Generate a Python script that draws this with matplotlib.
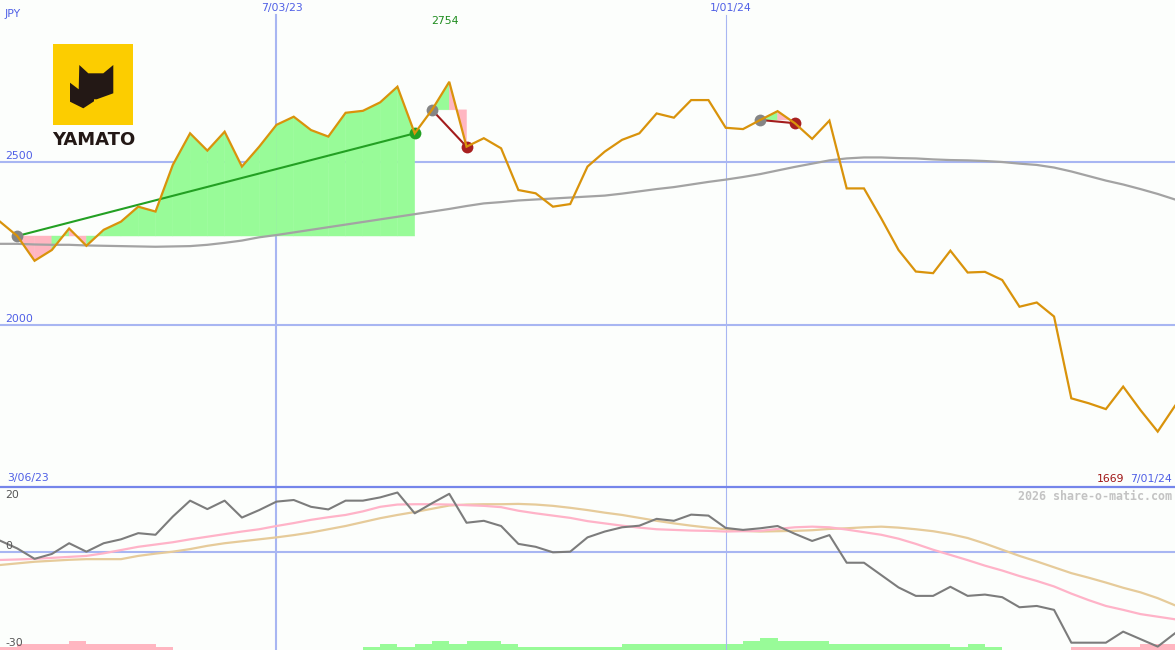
import numpy as np
import matplotlib
matplotlib.use("Agg")
import matplotlib.pyplot as plt
from matplotlib.patches import Polygon, Rectangle
from matplotlib.lines import Line2D

# ---------------- data (weekly, 69 weeks) ----------------
price = [2316, 2272, 2196, 2229, 2295, 2242, 2291, 2316, 2362, 2347,
         2490, 2587, 2534, 2592, 2485, 2546, 2613, 2638, 2597, 2577,
         2650, 2656, 2682, 2730, 2587, 2659, 2745, 2546, 2572, 2541,
         2413, 2403, 2362, 2370, 2485, 2531, 2567, 2587, 2648, 2635,
         2689, 2689, 2604, 2600, 2628, 2655, 2618, 2570, 2626, 2418,
         2418, 2326, 2229, 2163, 2158, 2227, 2160, 2162, 2137, 2055,
         2068, 2025, 1774, 1759, 1741, 1810, 1738, 1672, 1751]

ma_long = [2248, 2248, 2246, 2245, 2245, 2243, 2242, 2241, 2240, 2239,
           2240, 2241, 2245, 2251, 2258, 2268, 2275, 2283, 2291, 2299,
           2307, 2315, 2323, 2331, 2339, 2347, 2355, 2364, 2372, 2376,
           2381, 2384, 2387, 2390, 2393, 2396, 2402, 2409, 2416, 2422,
           2430, 2438, 2445, 2453, 2462, 2473, 2484, 2494, 2504, 2510,
           2513, 2513, 2511, 2510, 2507, 2505, 2504, 2502, 2499, 2494,
           2490, 2482, 2470, 2456, 2442, 2430, 2416, 2401, 2384]

osc = [3.4, 1.0, -2.2, -0.7, 2.6, 0.0, 2.6, 3.8, 5.7, 5.2,
       10.8, 15.7, 13.1, 15.7, 10.5, 12.8, 15.4, 15.9, 13.8, 13.0,
       15.7, 15.7, 16.7, 18.2, 11.8, 14.9, 17.8, 8.9, 9.5, 7.9,
       2.4, 1.5, -0.2, 0.0, 4.4, 6.2, 7.5, 8.0, 10.1, 9.5,
       11.4, 11.1, 7.3, 6.7, 7.2, 7.9, 5.5, 3.3, 5.1, -3.4,
       -3.4, -7.2, -11.0, -13.6, -13.6, -10.8, -13.6, -13.2, -14.0, -17.1,
       -16.7, -17.9, -28.0, -28.0, -28.0, -24.6, -26.9, -29.2, -25.1]

osc_fast = [-2.55, -2.4, -2.2, -1.9, -1.6, -1.3, -0.5, 0.5, 1.5, 2.2,
            2.9, 3.8, 4.6, 5.4, 6.2, 6.9, 7.9, 8.8, 9.8, 10.6,
            11.3, 12.4, 13.8, 14.5, 14.6, 14.6, 14.5, 14.3, 14.1, 13.7,
            12.6, 11.8, 11.1, 10.4, 9.4, 8.7, 8.0, 7.4, 6.9, 6.7,
            6.5, 6.4, 6.2, 6.3, 6.4, 7.0, 7.5, 7.7, 7.5, 6.8,
            6.0, 5.2, 4.0, 2.4, 0.6, -1.0, -2.6, -4.3, -5.8, -7.5,
            -9.0, -10.7, -12.9, -14.9, -16.7, -17.9, -19.2, -20.0, -20.8]

osc_slow = [-4.1, -3.6, -3.1, -2.8, -2.5, -2.3, -2.3, -2.3, -1.3, -0.6,
            0.0, 0.8, 1.8, 2.6, 3.2, 3.8, 4.4, 5.1, 5.9, 6.9,
            7.9, 9.1, 10.3, 11.3, 12.2, 13.2, 14.2, 14.5, 14.6, 14.6,
            14.7, 14.5, 14.1, 13.5, 12.8, 12.0, 11.3, 10.4, 9.5, 8.7,
            8.0, 7.4, 6.9, 6.4, 6.2, 6.3, 6.4, 6.6, 7.0, 7.2,
            7.5, 7.7, 7.4, 6.9, 6.3, 5.4, 4.2, 2.5, 0.6, -1.3,
            -3.0, -4.8, -6.6, -8.0, -9.5, -11.1, -12.5, -14.3, -16.5]

# signed histogram per week (positive = green, negative = pink)
hist_vals = [-1, -2, -2, -2, -3, -2, -2, -2, -2, -1,
             0, 0, 0, 0, 0, 0, 0, 0, 0, 0,
             0, 1, 2, 1, 2, 3, 2, 3, 3, 2,
             1, 1, 1, 1, 1, 1, 2, 2, 2, 2,
             2, 2, 2, 3, 4, 3, 3, 3, 2, 2,
             2, 2, 2, 2, 2, 1, 2, 1, 0, 0,
             0, 0, -1, -1, -1, -1, -2, -2]

# trades: (entry week, exit week)
trades = [(1, 24), (25, 27), (44, 46)]

date_ticks = [16, 42]
date_labels = ["7/03/23", "1/01/24"]
start_label, end_label = "3/06/23", "7/01/24"
price_grid = [2500, 2000]
osc_ticks = [20, 0, -30]
max_label, min_label = "2754", "1669"

# ---------------- figure ----------------
W, H = 1175, 650
BG = '#FCFEFC'
GRID = '#A8B6F2'
BLUE_TXT = '#4F5FE6'
fig = plt.figure(figsize=(W / 100, H / 100), dpi=100)
fig.patch.set_facecolor(BG)

def fx(x):
    return x / W

def fy(y):
    return 1 - y / H

split = 487.0
ax = fig.add_axes([0, fy(split), 1, split / H])
axh = fig.add_axes([0, 0, 1, (H - split) / H])
axb = fig.add_axes([0, 0, 1, (H - split) / H])
for a in (ax, axh, axb):
    a.set_axis_off()
ax.set_facecolor(BG)
axh.set_facecolor(BG)
axb.patch.set_alpha(0)

n = len(price)
x = np.arange(n)

# ---- top panel ----
ax.set_xlim(0, n - 1)
ax.set_ylim(1502, 2996)
for g in price_grid:
    ax.axhline(g, color=GRID, lw=1.5, zorder=1)
top_frac = 1 - 15 / split
ax.axvline(date_ticks[0], color=GRID, lw=1.5, ymax=top_frac, zorder=1)
ax.axvline(date_ticks[1], color=GRID, lw=0.8, ymax=top_frac, zorder=1)

GREEN_F = '#98FB98'
PINK_F = '#FFB6C1'
for e, q in trades:
    L = price[e]
    for j in range(e, q):
        col = GREEN_F if price[j + 1] >= L else PINK_F
        poly = Polygon([(j, L), (j, price[j]), (j + 1, price[j + 1]), (j + 1, L)],
                       closed=True, facecolor=col, edgecolor=col, lw=0.3, zorder=2)
        ax.add_patch(poly)

ax.plot(x, ma_long, color='#A3A3A3', lw=1.6, zorder=3)

for e, q in trades:
    win = price[q] > price[e]
    lc = '#23A023' if win else '#A31C1C'
    ax.plot([e, q], [price[e], price[q]], color=lc, lw=1.5, zorder=4)
    ax.plot([e], [price[e]], 'o', color='#858585', ms=8.5, mec='none', zorder=5)
    ax.plot([q], [price[q]], 'o', color='#23A023' if win else '#A82020',
            ms=8.5, mec='none', zorder=5)

ax.plot(x, price, color='#D9930B', lw=1.6, zorder=6, solid_joinstyle='miter')

# ---- bottom panel ----
axh.set_xlim(0, n - 1)
axh.set_ylim(0, 55)
hv = np.array(hist_vals)
hx = np.arange(len(hv))
axh.bar(hx, np.abs(hv), width=1.0, align='edge', bottom=0,
        color=[GREEN_F if v > 0 else PINK_F for v in hv], linewidth=0)

axb.set_xlim(0, n - 1)
axb.set_ylim(-30.25, 19.9)
axb.axhline(0, color=GRID, lw=1.5, zorder=1)
axb.axvline(date_ticks[0], color=GRID, lw=1.5, zorder=1)
axb.axvline(date_ticks[1], color=GRID, lw=0.8, zorder=1)
axb.plot(x, osc_slow, color='#E6CB9A', lw=1.6, zorder=2)
axb.plot(x, osc_fast, color='#FFB3C8', lw=1.6, zorder=3)
axb.plot(x, osc, color='#7C7C7C', lw=1.5, zorder=4)

# separator line
fig.add_artist(Line2D([0, 1], [fy(486.7), fy(486.7)], color='#7585EA', lw=1.6,
                      transform=fig.transFigure))

# ---------------- texts ----------------
FS = 7.8
fig.text(fx(5), fy(14), "JPY", color=BLUE_TXT, fontsize=FS, ha='left', va='center')
for t, lab in zip(date_ticks, date_labels):
    px = t * W / (n - 1)
    fig.text(fx(px + 5), fy(8.5), lab, color=BLUE_TXT, fontsize=FS, ha='center', va='center')
fig.text(fx(444.5), fy(21), max_label, color='#1E8C1E', fontsize=FS, ha='center', va='center')
fig.text(fx(5), fy(156.3), "2500", color=BLUE_TXT, fontsize=FS, ha='left', va='center')
fig.text(fx(5), fy(319.3), "2000", color=BLUE_TXT, fontsize=FS, ha='left', va='center')
fig.text(fx(7), fy(478.5), start_label, color=BLUE_TXT, fontsize=FS, ha='left', va='center')
fig.text(fx(1172), fy(479), end_label, color=BLUE_TXT, fontsize=FS, ha='right', va='center')
fig.text(fx(1124), fy(479), min_label, color='#A01414', fontsize=FS, ha='right', va='center')

osc_pos = {20: 495.5, 0: 546, -30: 642.5}
for v in osc_ticks:
    fig.text(fx(5), fy(osc_pos[v]), str(v), color='#555555', fontsize=FS, ha='left', va='center')

fig.text(fx(1172), fy(496), "2026 share-o-matic.com", color='#C3C3C3',
         fontsize=8.4, family='DejaVu Sans Mono', fontweight='bold', ha='right', va='center')

# ---------------- logo ----------------
fig.add_artist(Rectangle((fx(52.7), fy(125)), fx(80.6), 81 / H, facecolor='#FCCD00',
                         edgecolor='none', transform=fig.transFigure))
cat = [(79.3, 65), (88.3, 73.3), (103.3, 73.3), (113.3, 65), (113.3, 93.3),
       (96.7, 99.3), (94, 99.3), (94, 101.3), (83.3, 108.3), (70, 101.7),
       (70, 82.7), (78.7, 89.3)]
fig.add_artist(Polygon([(fx(a), fy(b)) for a, b in cat], closed=True,
                       facecolor='#231815', edgecolor='none', transform=fig.transFigure))
fig.text(fx(93.3), fy(140), "YAMATO", color='#231815', fontsize=13, fontweight='bold',
         ha='center', va='center')

fig.savefig("out.png", dpi=100, facecolor=BG)
